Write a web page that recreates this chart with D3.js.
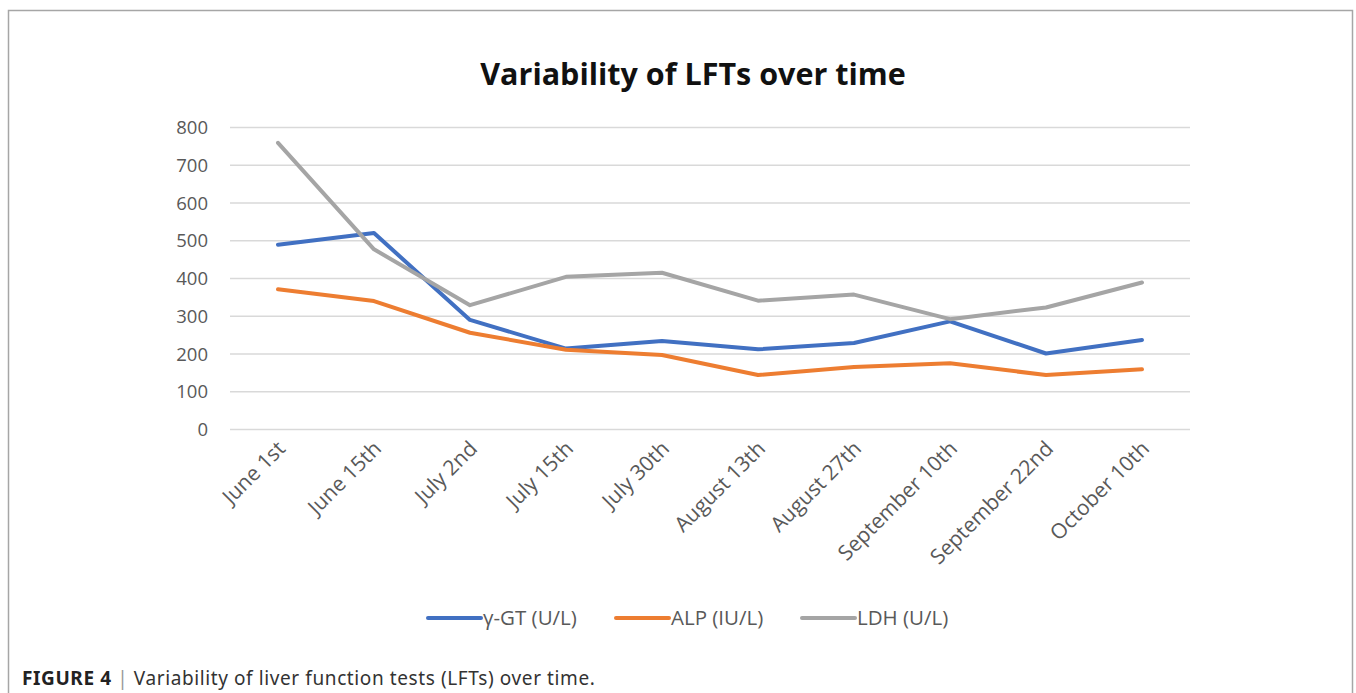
<!DOCTYPE html>
<html>
<head>
<meta charset="utf-8">
<script src="https://cdn.jsdelivr.net/npm/d3@7"></script>
<style>
  body { margin: 0; background: #fff; }
  svg { display: block; }
</style>
</head>
<body>
<svg id="chart"></svg>
<script>
// Data =======================================================================

const dates = ["June 1st", "June 15th", "July 2nd", "July 15th", "July 30th",
  "August 13th", "August 27th", "September 10th", "September 22nd", "October 10th"];
const ggt = [488, 519, 289, 213, 233, 211, 228, 285, 200, 236];
const alp = [370, 339, 255, 210, 196, 143, 164, 174, 143, 158];
const ldh = [758, 476, 328, 403, 414, 340, 356, 291, 322, 388];
const yTicks = [0, 100, 200, 300, 400, 500, 600, 700, 800];

const series = [
  { name: "γ-GT (U/L)", values: ggt, color: "#4170C2" },
  { name: "ALP (IU/L)", values: alp, color: "#ED7D31" },
  { name: "LDH (U/L)", values: ldh, color: "#A5A5A5" }
];

// Setup ======================================================================

const width = 1356, height = 693;
const plot = { left: 230, right: 1190, top: 127, bottom: 429 };
const font = "'Open Sans', sans-serif";

const svg = d3.select("#chart")
  .attr("width", width)
  .attr("height", height);

// frame round the figure
svg.append("rect")
  .attr("x", 8.5).attr("y", 10.5)
  .attr("width", 1344).attr("height", height)
  .attr("fill", "none")
  .attr("stroke", "#a6a6a6")
  .attr("stroke-width", 1.5);

const x = d3.scalePoint()
  .domain(dates)
  .range([plot.left, plot.right])
  .padding(0.5);

const y = d3.scaleLinear()
  .domain([0, 800])
  .range([plot.bottom, plot.top]);

// Title ======================================================================

svg.append("text")
  .attr("x", 693).attr("y", 85)
  .attr("text-anchor", "middle")
  .attr("font-family", font)
  .attr("font-weight", "bold")
  .attr("font-size", 30.5)
  .attr("fill", "#111")
  .text("Variability of LFTs over time");

// Axes =======================================================================

const yAxis = svg.append("g")
  .attr("transform", `translate(${plot.left},0)`)
  .call(d3.axisLeft(y).tickValues(yTicks)
    .tickSize(-(plot.right - plot.left)).tickPadding(22));
yAxis.select(".domain").remove();
yAxis.selectAll(".tick line")
  .attr("stroke", "#d9d9d9")
  .attr("stroke-width", 1.5);
yAxis.selectAll(".tick text")
  .attr("font-family", font)
  .attr("font-size", 18.5)
  .attr("fill", "#595959")
  .attr("dy", "0.36em");

const xAxis = svg.append("g")
  .attr("transform", `translate(0,${plot.bottom})`)
  .call(d3.axisBottom(x).tickSize(0).tickPadding(0));
xAxis.select(".domain").remove();
xAxis.selectAll(".tick text")
  .attr("font-family", font)
  .attr("font-size", 21)
  .attr("fill", "#595959")
  .attr("text-anchor", "end")
  .attr("dy", null)
  .attr("y", 0)
  .attr("transform", "translate(8,21) rotate(-45)");

// Lines ======================================================================

const line = d3.line()
  .x((d, i) => x(dates[i]))
  .y(d => y(d));

svg.selectAll("path.series")
  .data(series)
  .enter()
  .append("path")
  .attr("class", "series")
  .attr("d", d => line(d.values))
  .attr("fill", "none")
  .attr("stroke", d => d.color)
  .attr("stroke-width", 4)
  .attr("stroke-linejoin", "round")
  .attr("stroke-linecap", "round");

// Legend =====================================================================

const legendX = [428, 616, 802];
const legend = svg.selectAll("g.legend")
  .data(series)
  .enter()
  .append("g")
  .attr("class", "legend")
  .attr("transform", (d, i) => `translate(${legendX[i]},618)`);

legend.append("line")
  .attr("x1", 0).attr("x2", 53)
  .attr("stroke", d => d.color)
  .attr("stroke-width", 4)
  .attr("stroke-linecap", "round");

legend.append("text")
  .attr("x", 55)
  .attr("dy", "0.35em")
  .attr("font-family", font)
  .attr("font-size", 20.5)
  .attr("fill", "#595959")
  .text(d => d.name);

// Caption ====================================================================

const caption = svg.append("text")
  .attr("x", 22).attr("y", 685)
  .attr("font-family", "'Noto Sans', 'Liberation Sans', sans-serif")
  .attr("font-size", 19)
  .attr("letter-spacing", 0.6)
  .attr("fill", "#333");
caption.append("tspan").attr("font-weight", "bold").attr("fill", "#222").text("FIGURE 4");
caption.append("tspan").attr("fill", "#999").text(" | ");
caption.append("tspan").text("Variability of liver function tests (LFTs) over time.");
</script>
</body>
</html>
